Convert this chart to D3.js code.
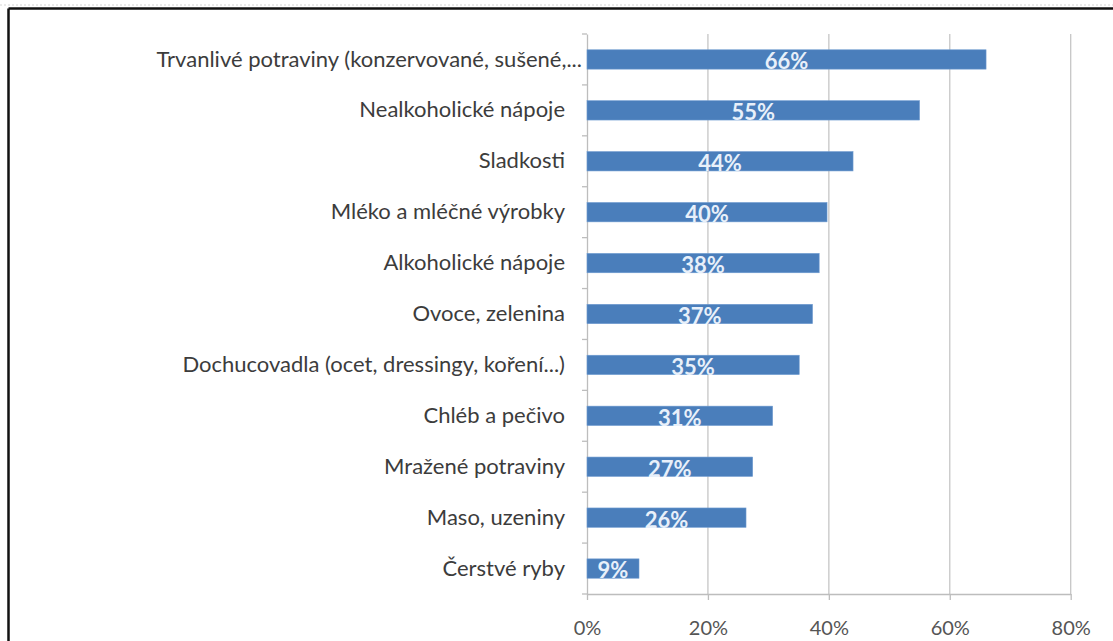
<!DOCTYPE html>
<html>
<head>
<meta charset="utf-8">
<script src="https://cdn.jsdelivr.net/npm/d3@7"></script>
<style>
  html, body { margin: 0; padding: 0; background: #ffffff; }
  svg { display: block; }
</style>
</head>
<body>
<svg id="chart" width="1113" height="641"></svg>
<script>
const categories = [
  "Trvanlivé potraviny (konzervované, sušené,...",
  "Nealkoholické nápoje",
  "Sladkosti",
  "Mléko a mléčné výrobky",
  "Alkoholické nápoje",
  "Ovoce, zelenina",
  "Dochucovadla (ocet, dressingy, koření...)",
  "Chléb a pečivo",
  "Mražené potraviny",
  "Maso, uzeniny",
  "Čerstvé ryby"
];
const values = [66, 55, 44, 39.7, 38.4, 37.3, 35.1, 30.7, 27.4, 26.3, 8.6];
const valueLabels = ["66%", "55%", "44%", "40%", "38%", "37%", "35%", "31%", "27%", "26%", "9%"];
const xTicks = [0, 20, 40, 60, 80];

const svg = d3.select("#chart");
const font = "Lato, 'Open Sans', sans-serif";

// frame (top and left edges of the pasted chart image)
svg.append("line").attr("x1", 0).attr("x2", 1113).attr("y1", 5).attr("y2", 5)
  .attr("stroke", "#d4d4d4").attr("stroke-dasharray", "2,2").attr("stroke-width", 1);
svg.append("line").attr("x1", 8.5).attr("x2", 1113).attr("y1", 8.5).attr("y2", 8.5)
  .attr("stroke", "#111").attr("stroke-width", 2.5);
svg.append("line").attr("x1", 8.5).attr("x2", 8.5).attr("y1", 8.5).attr("y2", 641)
  .attr("stroke", "#111").attr("stroke-width", 2.5);

const pLeft = 587, pRight = 1070.7, pTop = 34, pBottom = 594;

const x = d3.scaleLinear().domain([0, 80]).range([pLeft, pRight]);
const y = d3.scaleBand().domain(categories).range([pTop, pBottom])
  .paddingInner(0.62).paddingOuter(0.31);

// gridlines
svg.append("g").selectAll("line").data(xTicks.filter(d => d > 0)).join("line")
  .attr("x1", d => x(d)).attr("x2", d => x(d))
  .attr("y1", pTop).attr("y2", pBottom)
  .attr("stroke", "#c6c6c6").attr("stroke-width", 1.3);

// x axis
const xAxis = d3.axisBottom(x).tickValues(xTicks).tickFormat(d => d + "%")
  .tickSizeInner(6).tickSizeOuter(0).tickPadding(21);
const gx = svg.append("g").attr("transform", `translate(0,${pBottom})`).call(xAxis);
gx.select(".domain").attr("stroke", "#bdbdbd").attr("stroke-width", 1.3);
gx.selectAll(".tick line").attr("stroke", "#bdbdbd").attr("stroke-width", 1.3);
gx.selectAll(".tick text").attr("fill", "#555555").attr("font-family", font)
  .attr("font-size", 20);

// y axis
const yAxis = d3.axisLeft(y).tickSize(0).tickPadding(22);
const gy = svg.append("g").attr("transform", `translate(${pLeft},0)`).call(yAxis);
gy.select(".domain").attr("stroke", "#bdbdbd").attr("stroke-width", 1.3);
gy.selectAll(".tick text").attr("fill", "#3c3c3c").attr("font-family", font)
  .attr("font-size", 22);
// the truncated first label sits closer to the axis, as in the original
gy.selectAll(".tick text").filter((d, i) => i === 0).attr("x", -5);
// boundary ticks between bands
const bounds = d3.range(categories.length + 1).map(i => pTop + i * y.step());
gy.selectAll(".btick").data(bounds).join("line").attr("class", "btick")
  .attr("x1", -5).attr("x2", 0)
  .attr("y1", d => d).attr("y2", d => d)
  .attr("stroke", "#bdbdbd").attr("stroke-width", 1.3);

// bars
svg.append("g").selectAll("rect").data(categories).join("rect")
  .attr("x", x(0))
  .attr("y", (d) => y(d))
  .attr("width", (d, i) => x(values[i]) - x(0))
  .attr("height", y.bandwidth())
  .attr("fill", "#4a7ebb")
  .attr("stroke", "#6f9bd0").attr("stroke-width", 0.6);

// value labels
svg.append("g").selectAll("text").data(categories).join("text")
  .attr("x", (d, i) => (x(0) + x(values[i])) / 2)
  .attr("y", d => y(d) + y.bandwidth() / 2)
  .attr("dy", "0.45em")
  .attr("text-anchor", "middle")
  .attr("fill", "#e8f0fa")
  .attr("font-family", font)
  .attr("font-weight", 700)
  .attr("font-size", 22)
  .text((d, i) => valueLabels[i]);
</script>
</body>
</html>
